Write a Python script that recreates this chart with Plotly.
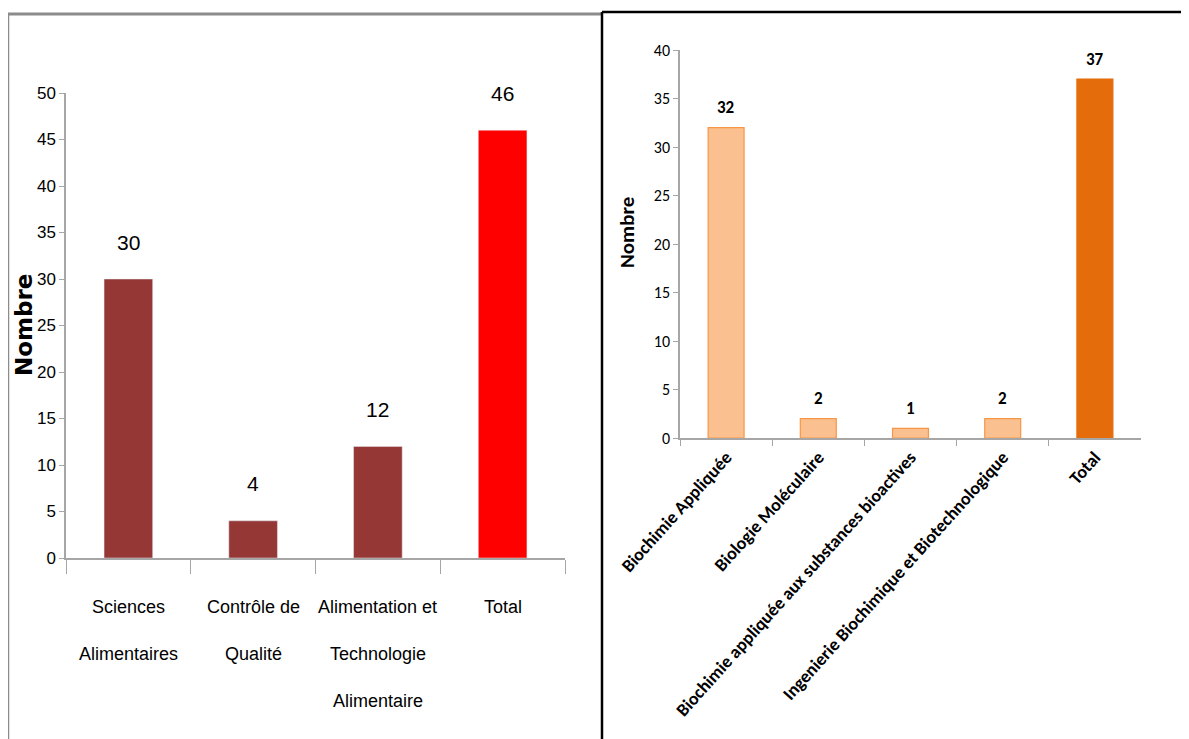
import plotly.graph_objects as go

# ---------------- data ----------------
left_categories = ["Sciences Alimentaires", "Contrôle de Qualité",
                   "Alimentation et Technologie Alimentaire", "Total"]
left_label_lines = [["Sciences", "Alimentaires"], ["Contrôle de", "Qualité"],
                    ["Alimentation et", "Technologie", "Alimentaire"], ["Total"]]
left_values = [30, 4, 12, 46]
left_yticks = [0, 5, 10, 15, 20, 25, 30, 35, 40, 45, 50]

right_categories = ["Biochimie Appliquée", "Biologie Moléculaire",
                    "Biochimie appliquée aux substances bioactives",
                    "Ingenierie Biochimique et Biotechnologique", "Total"]
right_values = [32, 2, 1, 2, 37]
right_yticks = [0, 5, 10, 15, 20, 25, 30, 35, 40]

y_title = "Nombre"

# ---------------- styles ----------------
OFF = 8                       # page body margin in the browser
W, H = 1189 - OFF, 739 - OFF
LEFT_FONT = "Liberation Sans Narrow, Liberation Sans, Arial, sans-serif"
RIGHT_FONT = "Carlito, Lato, Calibri, sans-serif"
left_colors = ["#953735", "#953735", "#953735", "#FF0000"]
right_colors = ["#FAC090", "#FAC090", "#FAC090", "#FAC090", "#E46C0A"]
right_edges = ["#F79646", "#F79646", "#F79646", "#F79646", "#E46C0A"]
axis_col = "#A6A6A6"


def px_x(v):
    return (v - OFF) / W


def px_y(v):
    return (H - (v - OFF)) / H


fig = go.Figure()

fig.add_trace(go.Bar(x=left_categories, y=left_values, marker_color=left_colors,
                     width=0.39, xaxis="x", yaxis="y", showlegend=False))
fig.add_trace(go.Bar(x=right_categories, y=right_values, marker_color=right_colors,
                     marker_line_color=right_edges, marker_line_width=1.2,
                     width=0.39, xaxis="x2", yaxis="y2", showlegend=False))

annotations = []
# data labels left
for c, v in zip(left_categories, left_values):
    annotations.append(dict(x=c, y=v, xref="x", yref="y", text=str(v), showarrow=False,
                            yanchor="middle", yshift=37,
                            font=dict(family=LEFT_FONT, size=21, color="black")))
# category labels left (multi-line)
for c, lines in zip(left_categories, left_label_lines):
    for i, line in enumerate(lines):
        annotations.append(dict(x=c, y=0, xref="x", yref="y", text=line, showarrow=False,
                                yanchor="middle", yshift=-49 - 47 * i,
                                font=dict(family=LEFT_FONT, size=18, color="black")))
# data labels right
for c, v in zip(right_categories, right_values):
    annotations.append(dict(x=c, y=v, xref="x2", yref="y2", text=str(v), showarrow=False,
                            yanchor="middle", yshift=20,
                            font=dict(family=RIGHT_FONT, size=17, color="black", weight="bold")))
# axis titles
annotations.append(dict(x=px_x(24), y=px_y(325), xref="paper", yref="paper", text=y_title,
                        showarrow=False, textangle=-90, xanchor="center", yanchor="middle",
                        font=dict(family="DejaVu Sans, sans-serif", size=23, color="black",
                                  weight="bold")))
annotations.append(dict(x=px_x(627), y=px_y(233), xref="paper", yref="paper", text=y_title,
                        showarrow=False, textangle=-90, xanchor="center", yanchor="middle",
                        font=dict(family=RIGHT_FONT, size=21, color="black", weight="bold")))

shapes = [
    dict(type="line", xref="paper", yref="paper", x0=px_x(8), x1=px_x(602),
         y0=px_y(14), y1=px_y(14), line=dict(color="#8C8C8C", width=3)),
    dict(type="line", xref="paper", yref="paper", x0=px_x(8.5), x1=px_x(8.5),
         y0=0, y1=px_y(14), line=dict(color="#8C8C8C", width=1.5)),
    dict(type="line", xref="paper", yref="paper", x0=px_x(602), x1=px_x(602),
         y0=0, y1=px_y(12), line=dict(color="black", width=2.5)),
    dict(type="line", xref="paper", yref="paper", x0=px_x(602), x1=1,
         y0=px_y(12), y1=px_y(12), line=dict(color="black", width=2.5)),
]

fig.update_layout(
    width=W, height=H, autosize=False,
    margin=dict(l=0, r=0, t=0, b=0, pad=0, autoexpand=False),
    paper_bgcolor="white", plot_bgcolor="white",
    bargap=0.6,
    xaxis=dict(domain=[px_x(66), px_x(565)], anchor="y", type="category",
               automargin=False,
               showline=True, linecolor=axis_col, linewidth=1.5,
               ticks="outside", tickson="boundaries", ticklen=14, tickcolor=axis_col,
               showticklabels=False, showgrid=False, zeroline=False, fixedrange=True),
    yaxis=dict(domain=[px_y(558), px_y(93)], anchor="x", range=[0, 50],
               automargin=False,
               tickvals=left_yticks, ticks="outside", ticklen=5, tickcolor=axis_col,
               showline=True, linecolor=axis_col, linewidth=1.5,
               showgrid=False, zeroline=False,
               tickfont=dict(family=LEFT_FONT, size=17, color="black")),
    xaxis2=dict(domain=[px_x(680), px_x(1141)], anchor="y2", type="category",
                automargin=False,
                showline=True, linecolor=axis_col, linewidth=1.5,
                ticks="outside", tickson="boundaries", ticklen=6, tickcolor=axis_col,
                tickangle=-48, showgrid=False, zeroline=False,
                tickfont=dict(family=RIGHT_FONT, size=18, color="black", weight="bold")),
    yaxis2=dict(domain=[px_y(438), px_y(50)], anchor="x2", range=[0, 40],
                automargin=False,
                tickvals=right_yticks, ticks="outside", ticklen=5, tickcolor=axis_col,
                showline=True, linecolor=axis_col, linewidth=1.5,
                showgrid=False, zeroline=False,
                tickfont=dict(family=RIGHT_FONT, size=16, color="black")),
    annotations=annotations,
    shapes=shapes,
)

fig.write_html("out.html")
